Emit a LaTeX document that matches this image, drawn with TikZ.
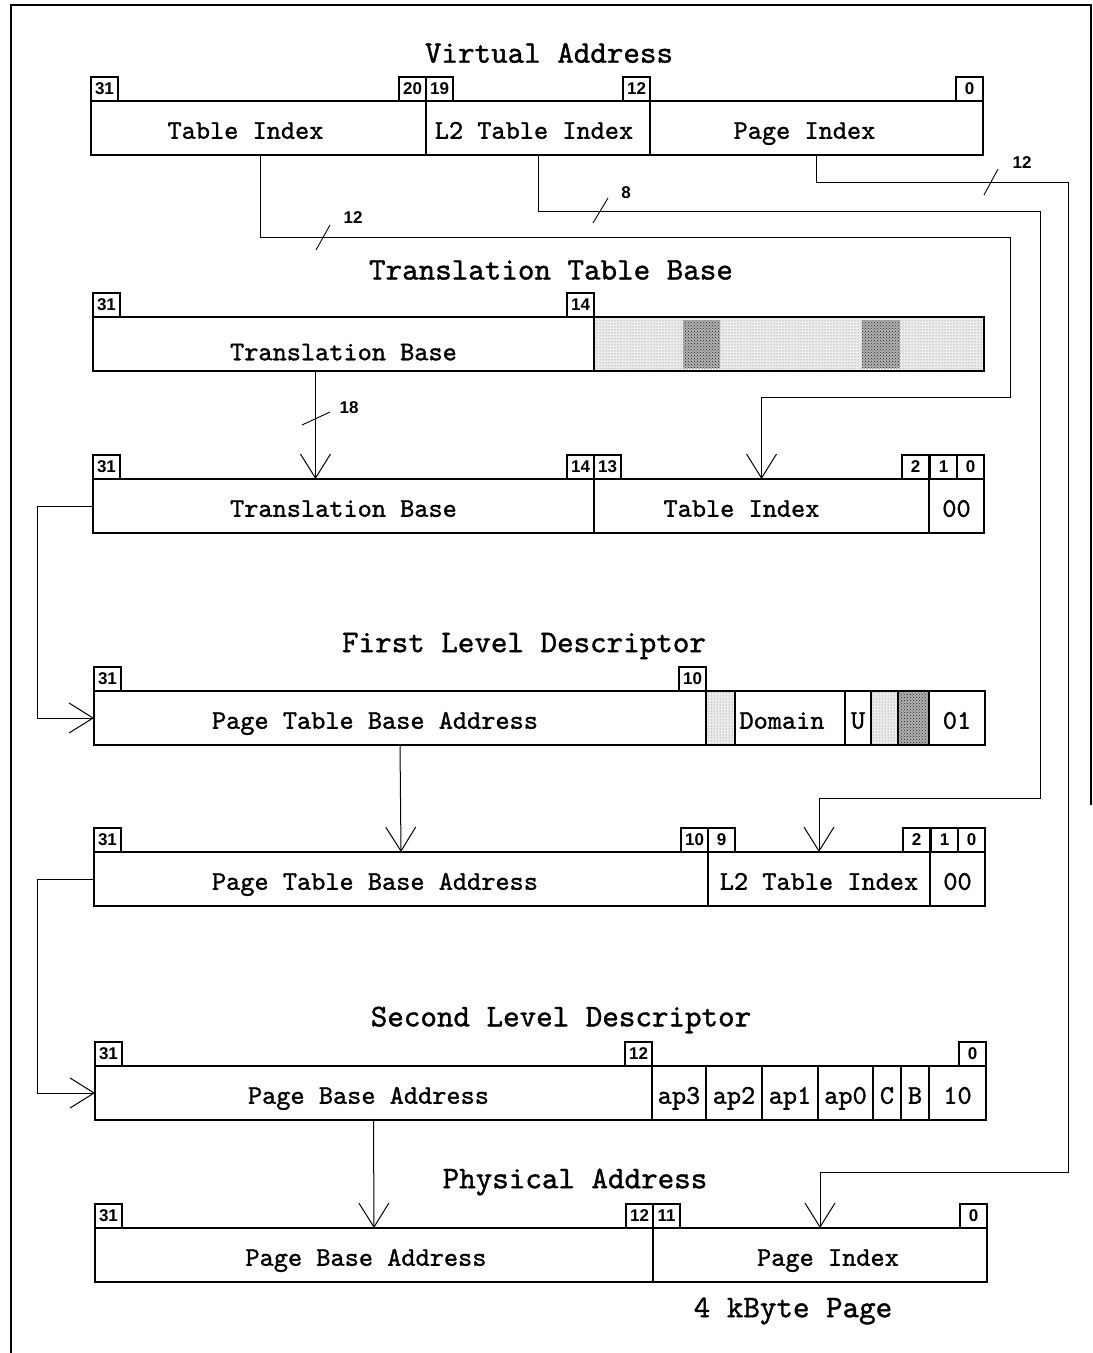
\documentclass[tikz,border=0pt]{standalone}
\usepackage{fontspec}
\newfontfamily\mmutt{lmmono10-regular.otf}[FakeBold=1.2]
\newfontfamily\mmubitfont{Liberation Sans}
\usepackage{tikz}
\usetikzlibrary{arrows.meta,positioning,calc,patterns}
\definecolor{mmushade}{RGB}{110,110,110}
\definecolor{mmudense}{RGB}{30,30,30}

\begin{document}
\begin{tikzpicture}[x=1pt,y=-1pt,
  mmufld/.style={draw,line width=1.1pt,inner sep=0pt,outer sep=0pt,anchor=north west,
    minimum height=54pt,text height=26pt,text depth=4.5pt,font=\mmutt\fontsize{27}{27}\selectfont},
  mmubit/.style={draw,line width=1.1pt,inner sep=0pt,outer sep=0pt,minimum width=27pt,
    minimum height=24pt,font=\mmubitfont\bfseries\fontsize{17}{17}\selectfont},
  mmulight/.style={preaction={fill=black!7},pattern=dots,pattern color=mmushade},
  mmuheavy/.style={preaction={fill=black!30},pattern=crosshatch dots,pattern color=mmudense},
  mmutitle/.style={font=\mmutt\fontsize{31.5}{31.5}\selectfont},
  mmucount/.style={font=\mmubitfont\bfseries\fontsize{17}{17}\selectfont},
  mmuslash/.style={line width=0.9pt},
  mmuarrow/.style={line width=1pt,-{Straight Barb[length=24pt,width=30pt,line width=1pt]}}
]
  \useasboundingbox (0,0) rectangle (1093,1353);
  % frame
  \draw[line width=1.6pt] (11,1353) -- (11,5) -- (1091,5) -- (1091,805);

  % Virtual Address
  \node[mmutitle] (vaTitle) at (549,53) {Virtual Address};
  \node[mmufld,minimum width=335pt] (vaTI) at (91,101) {Table Index\hspace*{26pt}};
  \node[mmufld,minimum width=224pt,right=0pt of vaTI] (vaL2) {L2 Table Index\hspace*{8pt}};
  \node[mmufld,minimum width=333pt,right=0pt of vaL2] (vaPI) {Page Index\hspace*{24pt}};
  \node[mmubit,anchor=south west] (va31) at (vaTI.north west) {31};
  \node[mmubit,anchor=south east] (va20) at (vaTI.north east) {20};
  \node[mmubit,anchor=south west] (va19) at (vaL2.north west) {19};
  \node[mmubit,anchor=south east] (va12) at (vaL2.north east) {12};
  \node[mmubit,anchor=south east] (va0) at (vaPI.north east) {0};

  % Translation Table Base
  \node[mmutitle] (ttbTitle) at (551,270) {Translation Table Base};
  \node[mmufld,minimum width=501pt,text height=32.5pt,text depth=0pt] (ttbTB) at (93,317) {Translation Base};
  \node[mmufld,minimum width=390pt,right=0pt of ttbTB,mmulight] (ttbRes) {};
  \fill[mmuheavy] ($(ttbRes.north west)+(89,3)$) rectangle ++(37,48);
  \fill[mmuheavy] ($(ttbRes.north west)+(268,3)$) rectangle ++(38,48);
  \node[mmubit,anchor=south west] (ttb31) at (ttbTB.north west) {31};
  \node[mmubit,anchor=south east] (ttb14) at (ttbTB.north east) {14};

  % first level index
  \node[mmufld,minimum width=501pt] (r3TB) at (93,479) {Translation Base};
  \node[mmufld,minimum width=335pt,right=0pt of r3TB] (r3TI) {Table Index\hspace*{40pt}};
  \node[mmufld,minimum width=55pt,right=0pt of r3TI] (r3Z) {00};
  \node[mmubit,anchor=south west] (r331) at (r3TB.north west) {31};
  \node[mmubit,anchor=south east] (r314) at (r3TB.north east) {14};
  \node[mmubit,anchor=south west] (r313) at (r3TI.north west) {13};
  \node[mmubit,anchor=south east] (r32) at (r3TI.north east) {2};
  \node[mmubit,anchor=south east] (r30) at (r3Z.north east) {0};
  \node[mmubit,anchor=south east] (r31) at (r30.south west) {1};

  % First Level Descriptor
  \node[mmutitle] (fldTitle) at (524,646) {First Level Descriptor};
  \node[mmufld,minimum width=612pt] (r4PTBA) at (94,691) {Page Table Base Address\hspace*{50pt}};
  \node[mmufld,minimum width=29pt,right=0pt of r4PTBA,mmulight] (r4Res1) {};
  \node[mmufld,minimum width=110pt,right=0pt of r4Res1] (r4Dom) {Domain\hspace*{16pt}};
  \node[mmufld,minimum width=26pt,right=0pt of r4Dom] (r4U) {U};
  \node[mmufld,minimum width=27pt,right=0pt of r4U,mmulight] (r4Res2) {};
  \node[mmufld,minimum width=31pt,right=0pt of r4Res2,mmuheavy] (r4Res3) {};
  \node[mmufld,minimum width=56pt,right=0pt of r4Res3] (r4Typ) {01};
  \node[mmubit,anchor=south west] (r431) at (r4PTBA.north west) {31};
  \node[mmubit,anchor=south east] (r410) at (r4PTBA.north east) {10};

  % second level index
  \node[mmufld,minimum width=614pt] (r5PTBA) at (94,852) {Page Table Base Address\hspace*{52pt}};
  \node[mmufld,minimum width=222pt,right=0pt of r5PTBA] (r5L2) {L2 Table Index};
  \node[mmufld,minimum width=55pt,right=0pt of r5L2] (r5Z) {00};
  \node[mmubit,anchor=south west] (r531) at (r5PTBA.north west) {31};
  \node[mmubit,anchor=south east] (r510) at (r5PTBA.north east) {10};
  \node[mmubit,anchor=south west] (r59) at (r5L2.north west) {9};
  \node[mmubit,anchor=south east] (r52) at (r5L2.north east) {2};
  \node[mmubit,anchor=south east] (r50) at (r5Z.north east) {0};
  \node[mmubit,anchor=south east] (r51) at (r50.south west) {1};

  % Second Level Descriptor
  \node[mmutitle] (sldTitle) at (561,1020) {Second Level Descriptor};
  \node[mmufld,minimum width=557pt] (r6PBA) at (95,1066) {Page Base Address\hspace*{10pt}};
  \node[mmufld,minimum width=54pt,right=0pt of r6PBA] (r6ap3) {ap3};
  \node[mmufld,minimum width=56pt,right=0pt of r6ap3] (r6ap2) {ap2};
  \node[mmufld,minimum width=56pt,right=0pt of r6ap2] (r6ap1) {ap1};
  \node[mmufld,minimum width=55pt,right=0pt of r6ap1] (r6ap0) {ap0};
  \node[mmufld,minimum width=28pt,right=0pt of r6ap0] (r6C) {C};
  \node[mmufld,minimum width=28pt,right=0pt of r6C] (r6B) {B};
  \node[mmufld,minimum width=57pt,right=0pt of r6B] (r6Typ) {10};
  \node[mmubit,anchor=south west] (r631) at (r6PBA.north west) {31};
  \node[mmubit,anchor=south east] (r612) at (r6PBA.north east) {12};
  \node[mmubit,anchor=south east] (r60) at (r6Typ.north east) {0};

  % Physical Address
  \node[mmutitle] (paTitle) at (575,1182) {Physical Address};
  \node[mmufld,minimum width=558pt] (r7PBA) at (95,1228) {Page Base Address\hspace*{16pt}};
  \node[mmufld,minimum width=334pt,right=0pt of r7PBA] (r7PI) {\hspace*{16pt}Page Index};
  \node[mmubit,anchor=south west] (r731) at (r7PBA.north west) {31};
  \node[mmubit,anchor=south east] (r712) at (r7PBA.north east) {12};
  \node[mmubit,anchor=south west] (r711) at (r7PI.north west) {11};
  \node[mmubit,anchor=south east] (r70) at (r7PI.north east) {0};
  \node[mmutitle] (pgNote) at (793,1311) {4 kByte Page};

  % connectors
  \draw[mmuarrow] ([xshift=1.5pt]vaTI.south) |- (1010,237) |- (r3TI.north |- 0,397) -- (r3TI.north);
  \draw[mmuarrow] (vaL2.south) |- (1040,211) |- (r5L2.north |- 0,798) -- (r5L2.north);
  \draw[mmuarrow] (vaPI.south) |- (1068,182) |- (r7PI.north |- 0,1172) -- (r7PI.north);
  \draw[mmuarrow] ([xshift=-28pt]ttbTB.south) -- ([xshift=-28pt]r3TB.north);
  \draw[mmuarrow] (r3TB.west) -- ++(-56,0) |- (r4PTBA.west);
  \draw[mmuarrow] (r4PTBA.south) -- (r5PTBA.north);
  \draw[mmuarrow] (r5PTBA.west) -- ++(-57,0) |- (r6PBA.west);
  \draw[mmuarrow] (r6PBA.south) -- (r7PBA.north);

  % bit counts
  \draw[mmuslash] (316,250) -- (330,225);
  \node[mmucount] (cntTI) at (353,218) {12};
  \draw[mmuslash] (593,223) -- (608,198);
  \node[mmucount] (cntL2) at (626,193) {8};
  \draw[mmuslash] (984,195) -- (998,169);
  \node[mmucount] (cntPI) at (1022,163) {12};
  \draw[mmuslash] (302,425) -- (330,412);
  \node[mmucount] (cntTB) at (349,408) {18};
\end{tikzpicture}
\end{document}
